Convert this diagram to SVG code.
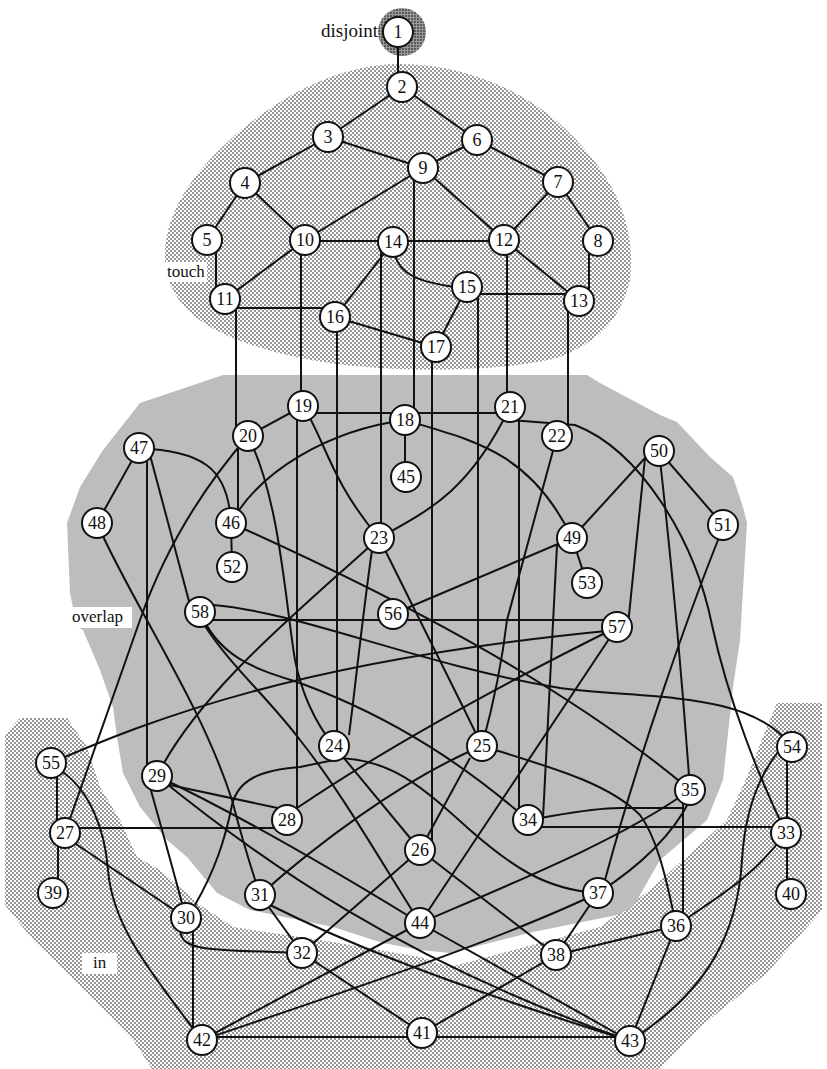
<svg xmlns="http://www.w3.org/2000/svg" width="827" height="1069" viewBox="0 0 827 1069">
<defs>
<pattern id="dots" width="4" height="4" patternUnits="userSpaceOnUse">
<rect width="4" height="4" fill="#fff"/>
<circle cx="1" cy="1" r="0.95" fill="#6a6a6a"/>
<circle cx="3" cy="3" r="0.95" fill="#6a6a6a"/>
</pattern>
<pattern id="dark" width="3" height="3" patternUnits="userSpaceOnUse">
<rect width="3" height="3" fill="#9a9a9a"/>
<circle cx="1" cy="1" r="1" fill="#444"/>
</pattern>
<style>
.e{fill:none;stroke:#111;stroke-width:2}
.n circle{fill:#fff;stroke:#111;stroke-width:2}
.n text{font-family:"Liberation Serif",serif;font-size:18px;text-anchor:middle;fill:#111}
.lab{font-family:"Liberation Serif",serif;font-size:17px;fill:#111}
</style>
</defs>
<g id="regions">
<path id="touch-region" fill="url(#dots)" d="M400,64 C470,64 540,95 585,150 C625,195 635,240 630,280 C620,320 600,340 560,357 C520,368 450,372 380,368 C320,365 260,352 220,332 C185,315 165,290 165,255 C165,220 185,180 230,140 C280,95 340,64 400,64 Z"/>
<rect x="165" y="262" width="42" height="20" fill="#fff"/>
<path id="in-region" fill="url(#dots)" d="M20,718 L67,718 L87,747 L100,787 L120,820 L137,857 L160,870 L200,905 L233,927 L333,942 L420,957 L450,967 L600,927 L650,890 L683,860 L727,820 L747,777 L767,727 L777,703 L822,703 L822,910 L767,973 L700,1027 L660,1069 L152,1069 L133,1040 L67,973 L33,940 L5,905 L5,735 Z"/>
<polygon id="overlap-region" fill="#bdbdbd" points="223,375 587,375 600,383 660,415 677,422 710,457 733,477 743,507 747,523 740,640 733,687 723,780 707,820 680,843 660,860 633,907 617,915 533,932 450,953 420,950 383,943 333,927 250,910 217,893 187,857 167,840 140,807 123,773 117,737 113,707 100,670 83,630 77,627 70,593 67,523 80,487 103,450 140,403"/>
<rect x="68" y="607" width="64" height="21" fill="#fff"/>
<rect x="82" y="953" width="35" height="21" fill="#fff"/>
<circle id="disjoint-halo" cx="402" cy="32" r="24" fill="url(#dark)"/>
</g>
<g id="labels">
<text class="lab" x="378" y="37" text-anchor="end" style="font-size:19px">disjoint</text>
<text class="lab" x="167" y="277">touch</text>
<text class="lab" x="72" y="622">overlap</text>
<text class="lab" x="93" y="968">in</text>
</g>
<g id="connectors">
<path class="e" d="M398,32 L398,80"/>
<path class="e" d="M402,87 L328,137"/>
<path class="e" d="M402,87 L477,140"/>
<path class="e" d="M328,137 L245,183"/>
<path class="e" d="M328,137 L423,168"/>
<path class="e" d="M477,140 L423,168"/>
<path class="e" d="M477,140 L558,182"/>
<path class="e" d="M245,183 L207,240"/>
<path class="e" d="M245,183 L305,240"/>
<path class="e" d="M423,168 L305,240"/>
<path class="e" d="M423,168 L504,240"/>
<path class="e" d="M558,182 L504,240"/>
<path class="e" d="M558,182 L598,241"/>
<path class="e" d="M216,240 L216,299"/>
<path class="e" d="M305,240 L225,299"/>
<path class="e" d="M305,241 L393,241"/>
<path class="e" d="M393,241 L504,241"/>
<path class="e" d="M393,242 L335,317"/>
<path class="e" d="M504,240 L579,301"/>
<path class="e" d="M335,317 L436,347"/>
<path class="e" d="M467,287 L436,347"/>
<path class="e" d="M467,294 L579,294"/>
<path class="e" d="M395,255 C400,275 420,282 455,287"/>
<path class="e" d="M414,175 L414,410"/>
<path class="e" d="M301,240 L301,406"/>
<path class="e" d="M381,242 L381,538"/>
<path class="e" d="M225,308 L330,308"/>
<path class="e" d="M236,299 L236,436"/>
<path class="e" d="M337,317 L337,746"/>
<path class="e" d="M432,347 L432,850"/>
<path class="e" d="M478,287 L478,746"/>
<path class="e" d="M507,240 L507,407"/>
<path class="e" d="M589,241 L589,301"/>
<path class="e" d="M568,301 L568,436"/>
<path class="e" d="M303,406 L248,436"/>
<path class="e" d="M303,413 L405,413"/>
<path class="e" d="M405,413 L510,413"/>
<path class="e" d="M303,406 C325,440 330,480 379,538"/>
<path class="e" d="M297,406 L297,820"/>
<path class="e" d="M405,420 L405,477"/>
<path class="e" d="M405,420 C470,440 530,450 572,538"/>
<path class="e" d="M405,420 C330,430 260,470 231,523"/>
<path class="e" d="M510,420 L575,425 C640,450 695,540 712,625 C728,700 760,780 786,833"/>
<path class="e" d="M510,407 C470,490 430,510 379,538"/>
<path class="e" d="M519,407 L519,820"/>
<path class="e" d="M557,436 L507,620 Q500,680 482,746"/>
<path class="e" d="M238,436 L238,523"/>
<path class="e" d="M248,436 C280,500 285,600 295,660 Q305,710 334,746"/>
<path class="e" d="M248,436 Q175,520 140,620 T65,833"/>
<path class="e" d="M139,448 L97,523"/>
<path class="e" d="M150,455 L190,605"/>
<path class="e" d="M147,448 L147,776"/>
<path class="e" d="M139,448 C200,452 228,465 231,523"/>
<path class="e" d="M97,523 C130,600 200,700 232,800 Q245,850 260,895"/>
<path class="e" d="M231,523 L232,567"/>
<path class="e" d="M231,523 C380,590 560,680 690,790"/>
<path class="e" d="M372,550 C362,620 355,690 349,735"/>
<path class="e" d="M379,538 C300,610 200,690 157,776"/>
<path class="e" d="M379,538 C420,620 450,680 482,746"/>
<path class="e" d="M572,538 L587,583"/>
<path class="e" d="M572,538 L645,458"/>
<path class="e" d="M572,538 L393,614"/>
<path class="e" d="M557,545 L543,818"/>
<path class="e" d="M659,451 L723,525"/>
<path class="e" d="M645,458 L628,625"/>
<path class="e" d="M660,460 Q678,620 690,790"/>
<path class="e" d="M720,535 C690,610 640,750 605,880"/>
<path class="e" d="M51,763 C150,720 300,660 617,630"/>
<path class="e" d="M57,763 L57,833"/>
<path class="e" d="M60,770 C90,790 105,830 108,870 C112,920 140,960 202,1040"/>
<path class="e" d="M58,833 L58,893"/>
<path class="e" d="M65,828 L287,828"/>
<path class="e" d="M70,840 L186,918"/>
<path class="e" d="M170,785 L287,810"/>
<path class="e" d="M297,808 Q420,725 617,627"/>
<path class="e" d="M150,787 Q165,840 186,918"/>
<path class="e" d="M180,930 C182,950 200,950 302,953"/>
<path class="e" d="M193,918 L193,1040"/>
<path class="e" d="M195,905 C215,870 225,840 232,805 C238,780 260,770 300,767 L334,760"/>
<path class="e" d="M334,758 C390,758 420,785 470,830 C510,865 545,890 598,893"/>
<path class="e" d="M260,895 L302,953"/>
<path class="e" d="M260,895 C310,850 400,780 482,746"/>
<path class="e" d="M270,905 C330,935 420,975 630,1041"/>
<path class="e" d="M302,953 L422,1033"/>
<path class="e" d="M302,953 L420,850"/>
<path class="e" d="M420,850 L334,746"/>
<path class="e" d="M470,758 L420,850"/>
<path class="e" d="M420,850 L556,955"/>
<path class="e" d="M495,750 C560,770 610,785 640,815 C655,835 665,870 676,926"/>
<path class="e" d="M528,820 C560,815 590,808 620,808 L683,808"/>
<path class="e" d="M683,790 L683,920"/>
<path class="e" d="M528,827 L786,827"/>
<path class="e" d="M690,800 Q665,850 598,893"/>
<path class="e" d="M690,790 C620,840 520,880 420,923"/>
<path class="e" d="M676,926 L556,955"/>
<path class="e" d="M676,926 L630,1041"/>
<path class="e" d="M676,926 C720,895 750,880 786,833"/>
<path class="e" d="M787,747 L787,894"/>
<path class="e" d="M778,752 C760,775 745,810 742,860 C738,930 710,990 630,1041"/>
<path class="e" d="M213,605 C300,612 420,665 560,688 C650,700 750,690 792,747"/>
<path class="e" d="M200,620 L617,620"/>
<path class="e" d="M200,612 C220,660 260,670 300,683 C400,720 470,770 528,820"/>
<path class="e" d="M205,626 C230,665 270,700 300,740 C340,790 380,860 420,923"/>
<path class="e" d="M598,893 L556,955"/>
<path class="e" d="M598,893 C500,940 350,990 202,1040"/>
<path class="e" d="M556,955 L422,1033"/>
<path class="e" d="M202,1037 L630,1037"/>
<path class="e" d="M420,923 L630,1041"/>
<path class="e" d="M420,923 L617,627"/>
<path class="e" d="M157,776 C250,820 350,880 420,923"/>
<path class="e" d="M157,776 C260,860 400,960 630,1041"/>
<path class="e" d="M202,1040 L420,923"/>
</g>
<g id="nodes" class="n">
<g id="n1"><circle cx="398" cy="32" r="15"/><text x="398" y="38">1</text></g>
<g id="n2"><circle cx="402" cy="87" r="15"/><text x="402" y="93">2</text></g>
<g id="n3"><circle cx="328" cy="137" r="15"/><text x="328" y="143">3</text></g>
<g id="n4"><circle cx="245" cy="183" r="15"/><text x="245" y="189">4</text></g>
<g id="n5"><circle cx="207" cy="240" r="15"/><text x="207" y="246">5</text></g>
<g id="n6"><circle cx="477" cy="140" r="15"/><text x="477" y="146">6</text></g>
<g id="n7"><circle cx="558" cy="182" r="15"/><text x="558" y="188">7</text></g>
<g id="n8"><circle cx="598" cy="241" r="15"/><text x="598" y="247">8</text></g>
<g id="n9"><circle cx="423" cy="168" r="15"/><text x="423" y="174">9</text></g>
<g id="n10"><circle cx="305" cy="240" r="15"/><text x="305" y="246">10</text></g>
<g id="n11"><circle cx="225" cy="299" r="15"/><text x="225" y="305">11</text></g>
<g id="n12"><circle cx="504" cy="240" r="15"/><text x="504" y="246">12</text></g>
<g id="n13"><circle cx="579" cy="301" r="15"/><text x="579" y="307">13</text></g>
<g id="n14"><circle cx="393" cy="242" r="15"/><text x="393" y="248">14</text></g>
<g id="n15"><circle cx="467" cy="287" r="15"/><text x="467" y="293">15</text></g>
<g id="n16"><circle cx="335" cy="317" r="15"/><text x="335" y="323">16</text></g>
<g id="n17"><circle cx="436" cy="347" r="15"/><text x="436" y="353">17</text></g>
<g id="n18"><circle cx="405" cy="420" r="15"/><text x="405" y="426">18</text></g>
<g id="n19"><circle cx="303" cy="406" r="15"/><text x="303" y="412">19</text></g>
<g id="n20"><circle cx="248" cy="436" r="15"/><text x="248" y="442">20</text></g>
<g id="n21"><circle cx="510" cy="407" r="15"/><text x="510" y="413">21</text></g>
<g id="n22"><circle cx="557" cy="436" r="15"/><text x="557" y="442">22</text></g>
<g id="n23"><circle cx="379" cy="538" r="15"/><text x="379" y="544">23</text></g>
<g id="n24"><circle cx="334" cy="746" r="15"/><text x="334" y="752">24</text></g>
<g id="n25"><circle cx="482" cy="746" r="15"/><text x="482" y="752">25</text></g>
<g id="n26"><circle cx="420" cy="850" r="15"/><text x="420" y="856">26</text></g>
<g id="n27"><circle cx="65" cy="833" r="15"/><text x="65" y="839">27</text></g>
<g id="n28"><circle cx="287" cy="820" r="15"/><text x="287" y="826">28</text></g>
<g id="n29"><circle cx="157" cy="776" r="15"/><text x="157" y="782">29</text></g>
<g id="n30"><circle cx="186" cy="918" r="15"/><text x="186" y="924">30</text></g>
<g id="n31"><circle cx="260" cy="895" r="15"/><text x="260" y="901">31</text></g>
<g id="n32"><circle cx="302" cy="953" r="15"/><text x="302" y="959">32</text></g>
<g id="n33"><circle cx="786" cy="833" r="15"/><text x="786" y="839">33</text></g>
<g id="n34"><circle cx="528" cy="820" r="15"/><text x="528" y="826">34</text></g>
<g id="n35"><circle cx="690" cy="790" r="15"/><text x="690" y="796">35</text></g>
<g id="n36"><circle cx="676" cy="926" r="15"/><text x="676" y="932">36</text></g>
<g id="n37"><circle cx="598" cy="893" r="15"/><text x="598" y="899">37</text></g>
<g id="n38"><circle cx="556" cy="955" r="15"/><text x="556" y="961">38</text></g>
<g id="n39"><circle cx="53" cy="893" r="15"/><text x="53" y="899">39</text></g>
<g id="n40"><circle cx="791" cy="894" r="15"/><text x="791" y="900">40</text></g>
<g id="n41"><circle cx="422" cy="1033" r="15"/><text x="422" y="1039">41</text></g>
<g id="n42"><circle cx="202" cy="1040" r="15"/><text x="202" y="1046">42</text></g>
<g id="n43"><circle cx="630" cy="1041" r="15"/><text x="630" y="1047">43</text></g>
<g id="n44"><circle cx="420" cy="923" r="15"/><text x="420" y="929">44</text></g>
<g id="n45"><circle cx="406" cy="477" r="15"/><text x="406" y="483">45</text></g>
<g id="n46"><circle cx="231" cy="523" r="15"/><text x="231" y="529">46</text></g>
<g id="n47"><circle cx="139" cy="448" r="15"/><text x="139" y="454">47</text></g>
<g id="n48"><circle cx="97" cy="523" r="15"/><text x="97" y="529">48</text></g>
<g id="n49"><circle cx="572" cy="538" r="15"/><text x="572" y="544">49</text></g>
<g id="n50"><circle cx="659" cy="451" r="15"/><text x="659" y="457">50</text></g>
<g id="n51"><circle cx="723" cy="525" r="15"/><text x="723" y="531">51</text></g>
<g id="n52"><circle cx="232" cy="567" r="15"/><text x="232" y="573">52</text></g>
<g id="n53"><circle cx="587" cy="583" r="15"/><text x="587" y="589">53</text></g>
<g id="n54"><circle cx="792" cy="747" r="15"/><text x="792" y="753">54</text></g>
<g id="n55"><circle cx="51" cy="763" r="15"/><text x="51" y="769">55</text></g>
<g id="n56"><circle cx="393" cy="614" r="15"/><text x="393" y="620">56</text></g>
<g id="n57"><circle cx="617" cy="627" r="15"/><text x="617" y="633">57</text></g>
<g id="n58"><circle cx="200" cy="612" r="15"/><text x="200" y="618">58</text></g>
</g>
</svg>
